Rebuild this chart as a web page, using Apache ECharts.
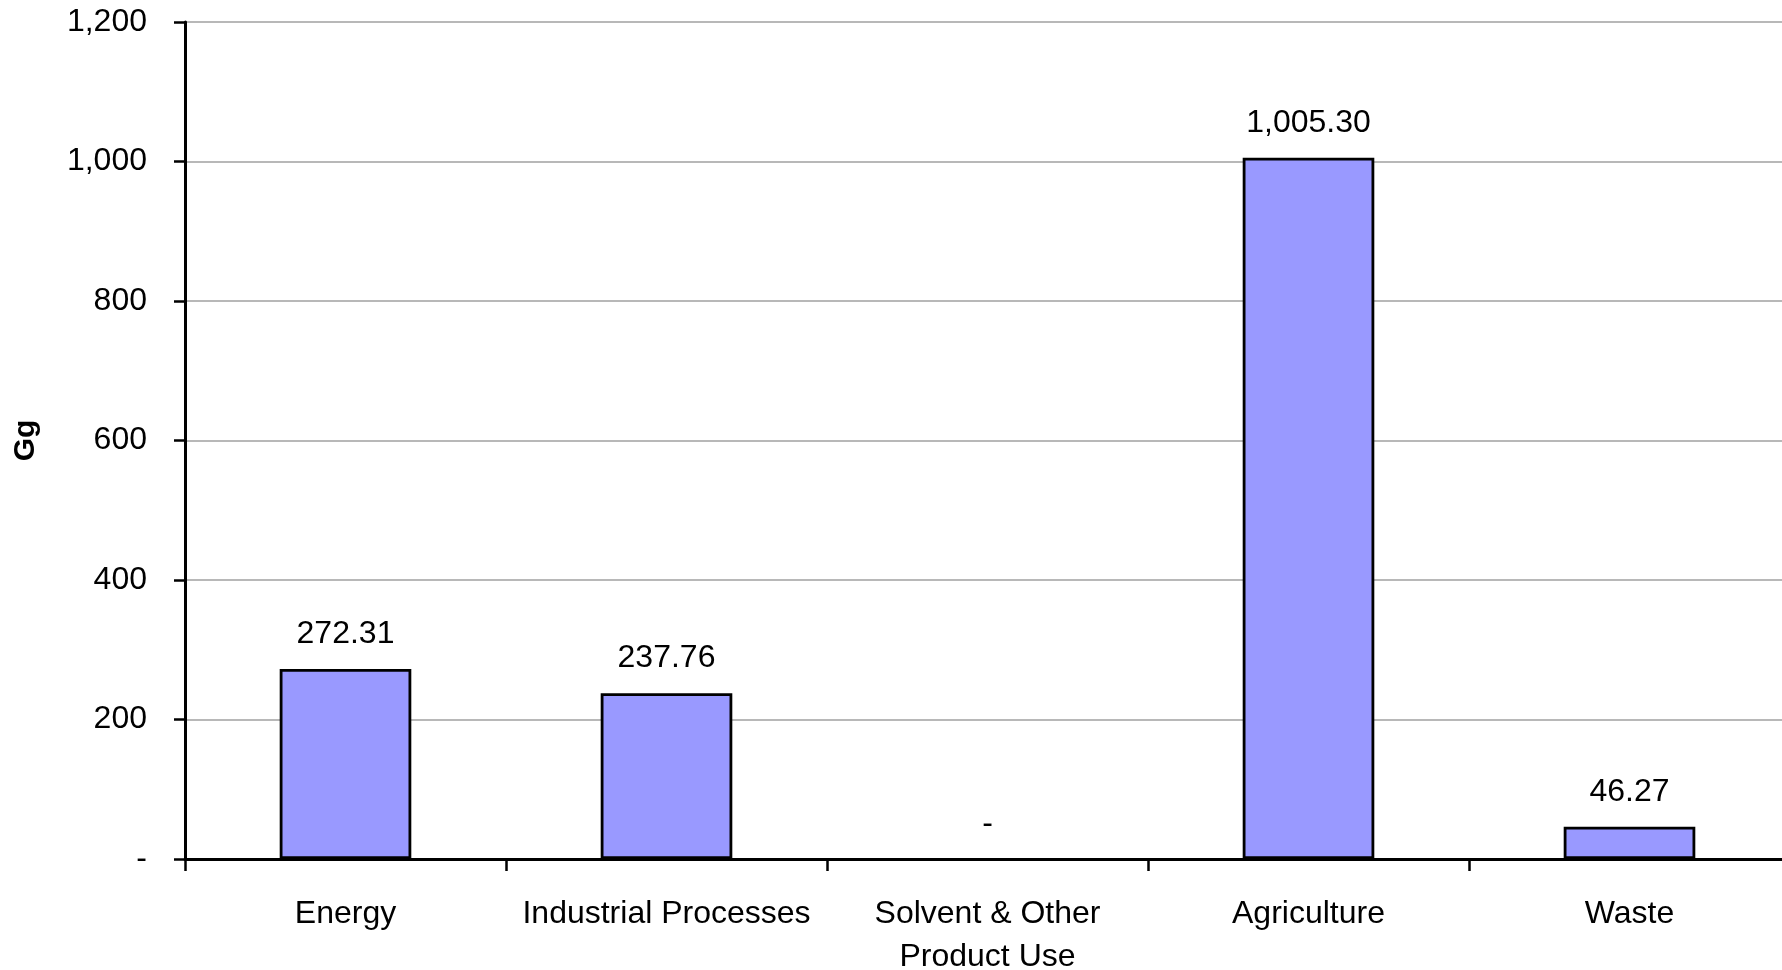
<!DOCTYPE html>
<html>
<head>
<meta charset="utf-8">
<script src="https://cdn.jsdelivr.net/npm/echarts@6/dist/echarts.min.js"></script>
<style>html,body{margin:0;padding:0;background:#fff;}#c{width:1782px;height:970px;}</style>
</head>
<body>
<div id="c"></div>
<script>
const categories = ["Energy", "Industrial Processes", "Solvent & Other\nProduct Use", "Agriculture", "Waste"];
const values = [272.31, 237.76, 0, 1005.30, 46.27];
const yTicks = [0, 200, 400, 600, 800, 1000, 1200];
const yName = "Gg";

function fmt(v) {
  if (v === 0) return "-";
  return v.toLocaleString("en-US", {minimumFractionDigits: 2, maximumFractionDigits: 2});
}
function fmtTick(v) {
  if (v === 0) return "-";
  return v.toLocaleString("en-US");
}

const chart = echarts.init(document.getElementById("c"));
chart.setOption({
  animation: false,
  textStyle: {fontFamily: "Liberation Sans, Arial, sans-serif"},
  grid: {left: 185, right: -8, top: 22, bottom: 111, containLabel: false, outerBoundsMode: "none"},
  xAxis: {
    type: "category",
    data: categories,
    axisLine: {lineStyle: {color: "#000", width: 3}},
    axisTick: {show: true, length: 12, lineStyle: {color: "#000", width: 2.5}, alignWithLabel: false},
    axisLabel: {color: "#000", fontSize: 32, margin: 34, lineHeight: 43, interval: 0, fontFamily: "Liberation Sans"},
    splitLine: {show: false}
  },
  yAxis: {
    type: "value",
    min: yTicks[0],
    max: yTicks[yTicks.length - 1],
    interval: yTicks[1] - yTicks[0],
    name: yName,
    nameLocation: "middle",
    nameGap: 144,
    nameRotate: 90,
    nameTextStyle: {color: "#000", fontSize: 30, fontWeight: "bold", fontFamily: "Liberation Sans"},
    axisLine: {show: true, lineStyle: {color: "#000", width: 3}},
    axisTick: {show: true, length: 11, lineStyle: {color: "#000", width: 2.5}},
    axisLabel: {color: "#000", fontSize: 32, margin: 38, formatter: fmtTick, fontFamily: "Liberation Sans"},
    splitLine: {show: true, lineStyle: {color: "#a0a0a0", width: 1.5}}
  },
  series: [{
    type: "bar",
    data: values.map(v => v === 0 ? {value: v, itemStyle: {borderWidth: 0}} : v),
    barWidth: "41%",
    itemStyle: {color: "#9999FF", borderColor: "#000", borderWidth: 2.8},
    label: {
      show: true,
      position: "top",
      distance: 19,
      color: "#000",
      fontSize: 32,
      fontFamily: "Liberation Sans",
      formatter: p => fmt(p.value)
    }
  }]
});
</script>
</body>
</html>
